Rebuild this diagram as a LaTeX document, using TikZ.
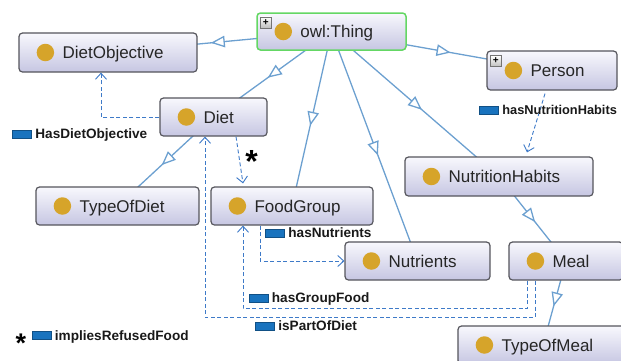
\documentclass[tikz,border=0pt]{standalone}
\usepackage{fontspec}
\setmainfont{Liberation Sans}
\usetikzlibrary{arrows.meta,decorations.markings,calc}

\definecolor{boxtop}{RGB}{248,248,253}
\definecolor{boxbot}{RGB}{198,198,226}
\definecolor{boxedge}{RGB}{85,85,92}
\definecolor{thinggreen}{RGB}{100,215,100}
\definecolor{dotgold}{RGB}{214,164,42}
\definecolor{isablue}{RGB}{108,160,208}
\definecolor{propblue}{RGB}{62,122,200}
\definecolor{barblue}{RGB}{25,115,190}

\pgfdeclarelayer{background}
\pgfsetlayers{background,main}

\tikzset{
  cls/.style={draw=boxedge, line width=1.2pt, rounded corners=3.5pt,
    top color=boxtop, bottom color=boxbot, inner sep=0pt},
  rootcls/.style={cls, draw=thinggreen, line width=1.5pt},
  golddot/.style={circle, fill=dotgold, minimum size=17.5pt, inner sep=0pt},
  clstext/.style={anchor=base west, inner sep=0pt,
    font=\fontsize{17}{19}\selectfont, text=black!85},
  expander/.style={draw=black!55, line width=0.5pt, top color=white, bottom color=black!25,
    minimum size=11pt, inner sep=0pt, font=\fontsize{10}{10}\bfseries},
  isa/.style={draw=isablue, line width=1.3pt,
    decoration={markings, mark=at position 0.54 with
      {\arrow{Triangle[open, fill=white, length=14pt, width=11.5pt]}}},
    postaction={decorate}},
  prop/.style={draw=propblue, line width=0.9pt, dash pattern=on 4pt off 2.5pt,
    -{Straight Barb[length=6pt, width=11pt]}},
  propbar/.style={fill=barblue, draw=barblue!70!black, line width=0.4pt,
    minimum width=19pt, minimum height=8pt, inner sep=0pt},
  proptext/.style={anchor=base west, inner sep=0pt,
    font=\fontsize{13.6}{15}\bfseries, text=black!90},
  star/.style={inner sep=0pt, anchor=base},
}

% class box: name, centre x, centre y, width, height, label
\newcommand\owlclass[7][cls]{%
  \node[#1, minimum width=#5pt, minimum height=#6pt] (#2) at (#3,#4) {};
  \node[golddot] at ([xshift=27pt]#2.west) {};
  \node[clstext] at ([xshift=44pt, yshift=-6pt]#2.west) {#7};
}
% property label: name, bar centre x, bar centre y, text, optional text size
\newcommand\proplabel[5][13.6]{%
  \node[propbar] (#2) at (#3,#4) {};
  \node[proptext, font=\fontsize{#1}{15}\bfseries] at ([xshift=3.5pt, yshift=-4.8pt]#2.east) {#5};
}

\begin{document}
\begin{tikzpicture}[x=1pt, y=-1pt]
  \useasboundingbox (0,0) rectangle (621,360);

  % classes
  \owlclass[rootcls]{thing}{331.5}{31.5}{149}{37}{owl:Thing}
  \owlclass{dobj}{108}{52.5}{178}{39}{DietObjective}
  \owlclass{person}{552}{70.5}{130}{39}{Person}
  \owlclass{diet}{213.5}{117}{107}{38}{Diet}
  \owlclass{tod}{117.5}{206}{163}{38}{TypeOfDiet}
  \owlclass{fg}{292}{206}{162}{38}{FoodGroup}
  \owlclass{nh}{499}{176.5}{188}{39}{NutritionHabits}
  \owlclass{nut}{417.5}{261}{145}{38}{Nutrients}
  \owlclass{meal}{566}{261}{114}{38}{Meal}
  \owlclass{tom}{543}{345}{170}{38}{TypeOfMeal}

  % expand markers
  \node[expander] at ([xshift=9.5pt, yshift=-10pt]thing.north west) {+};
  \node[expander] at ([xshift=9.5pt, yshift=-10.5pt]person.north west) {+};

  % subclass edges, centre to centre, hidden under the boxes
  \begin{pgfonlayer}{background}
    \draw[isa] (thing.center) -- (dobj.center);
    \draw[isa] (thing.center) -- (diet.center);
    \draw[isa] (thing.center) -- (fg.center);
    \draw[isa] (thing.center) -- (nut.center);
    \draw[isa] (thing.center) -- (nh.center);
    \draw[isa] (thing.center) -- (person.center);
    \draw[isa] (diet.center) -- (tod.center);
    \draw[isa] (nh.center) -- (meal.center);
    \draw[isa] (meal.center) -- (tom.center);
  \end{pgfonlayer}

  % object properties
  \draw[prop] (diet.west) -| ([xshift=-7pt]dobj.south);
  \draw[prop] ([xshift=22.5pt]diet.south) -- ([xshift=-49pt, yshift=3pt]fg.north);
  \draw[prop] ([xshift=-7pt, yshift=-3pt]person.south) -- ([xshift=28pt, yshift=4pt]nh.north);
  \draw[prop] ([xshift=-32pt]fg.south) |- (nut.west);
  \draw[prop] ([xshift=-39pt]meal.south) -- ++(0,28) -| ([xshift=-49pt]fg.south);
  \draw[prop] ([xshift=-31pt]meal.south) -- ++(0,37) -| ([xshift=-8.5pt]diet.south);

  % property names
  \proplabel{lobj}{22}{134}{HasDietObjective}
  \proplabel[12.8]{lnh}{489}{110}{hasNutritionHabits}
  \proplabel{lnut}{275}{233}{hasNutrients}
  \proplabel{lgf}{258.5}{298}{hasGroupFood}
  \proplabel{lpod}{265}{326}{isPartOfDiet}
  \proplabel{lref}{41.5}{335.5}{impliesRefusedFood}

  % refused-food marks
  \node[star, font=\fontsize{32}{32}\bfseries] (s1) at (251.5,172) {*};
  \node[star, font=\fontsize{27}{27}\bfseries] (s2) at (21,352.5) {*};
\end{tikzpicture}
\end{document}
